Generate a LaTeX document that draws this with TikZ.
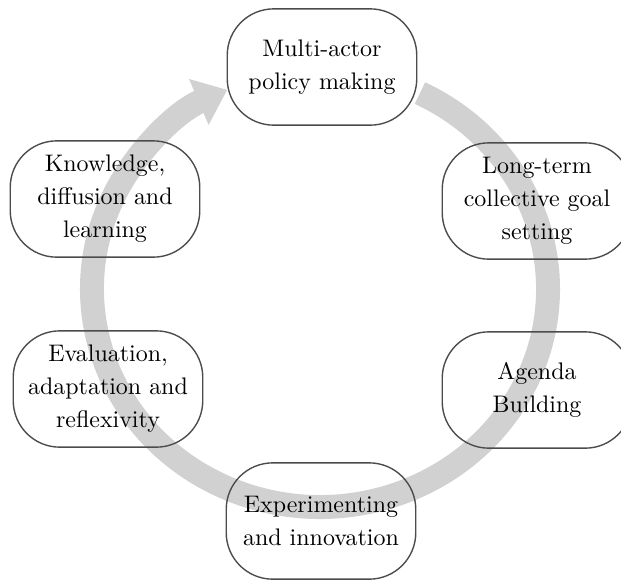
\documentclass[tikz,border=0pt]{standalone}
\usetikzlibrary{arrows.meta}
\begin{document}
\begin{tikzpicture}[x=0.43pt,y=-0.43pt,
  box/.style={draw=black!70, line width=0.6pt, rounded corners=20pt,
    minimum width=81.5pt, minimum height=50pt, align=center,
    font=\fontsize{10.3}{14.2}\selectfont, inner sep=2pt},
  band/.style={line width=10.3pt, draw=black!18,
    -{Triangle[length=13.3pt,width=20.6pt]}}]
\useasboundingbox (0,0) rectangle (621,579);
\coordinate (c) at (320,289);
\draw[band] (c) ++(-64:228 and 218) arc[start angle=-64,end angle=246,x radius=228,y radius=218];
\node[box] (m) at (322,67) {Multi-actor\\policy making};
\node[box] (l) at (537,201) {Long-term\\collective goal\\setting};
\node[box] (a) at (537,390) {Agenda\\Building};
\node[box] (x) at (321,521) {Experimenting\\and innovation};
\node[box] (e) at (108,389) {Evaluation,\\adaptation and\\reflexivity};
\node[box] (k) at (105,199) {Knowledge,\\diffusion and\\learning};
\end{tikzpicture}
\end{document}
